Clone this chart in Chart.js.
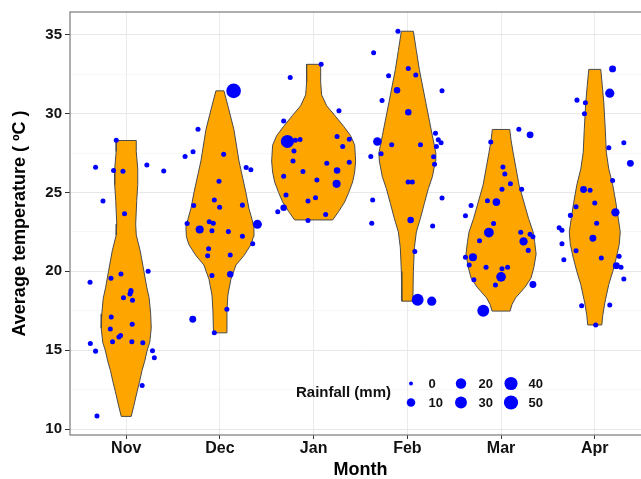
<!DOCTYPE html>
<html><head><meta charset="utf-8">
<script src="https://cdn.jsdelivr.net/npm/chart.js@4"></script>
<style>html,body{margin:0;padding:0;background:#fff;overflow:hidden}</style>
</head><body>
<canvas id="c" width="660" height="479" style="width:660px;height:479px;display:block"></canvas>
<script>
// ---------- data ----------
const months = ['Nov','Dec','Jan','Feb','Mar','Apr'];
const yTicks = [10,12.5,15,17.5,20,22.5,25,27.5,30,32.5,35];
const legendRain = [0,10,20,30,40,50];

// violin profiles: [temperature, half-width in category units]
const violinNov = [[28.3,.107],[27.6,.107],[26.5,.123],[25.5,.123],[24.5,.112],[23.0,.101],[22.3,.107],[21.3,.149],[20.0,.189],[19.0,.219],[18.3,.245],[17.3,.261],[16.4,.267],[15.5,.251],[15.0,.224],[14.3,.197],[13.7,.168],[13.0,.142],[12.4,.117],[11.4,.078],[10.8,.053]];
const violinDec = [[31.45,.043],[30.5,.085],[29.0,.149],[27.0,.203],[25.0,.277],[24.0,.309],[23.3,.342],[22.8,.363],[22.2,.358],[21.7,.331],[21.0,.256],[20.4,.171],[19.5,.117],[18.5,.085],[17.5,.075],[16.1,.069]];
const violinJan = [[33.13,.075],[32.0,.075],[31.2,.085],[30.5,.139],[29.9,.224],[29.2,.320],[28.6,.395],[28.0,.438],[27.0,.448],[26.3,.438],[25.67,.416],[25.0,.374],[24.4,.331],[23.8,.267],[23.26,.203]];
const violinFeb = [[35.23,.064],[34.0,.096],[32.8,.128],[30.7,.197],[28.6,.267],[27.5,.304],[27.0,.299],[26.0,.267],[25.25,.224],[24.3,.181],[23.36,.139],[22.5,.096],[21.5,.075],[20.0,.064],[18.11,.059]];
const violinMar = [[29.0,.093],[28.3,.107],[27.56,.128],[25.47,.192],[23.36,.293],[22.5,.342],[21.9,.358],[21.1,.374],[20.3,.352],[19.58,.320],[19.0,.256],[18.32,.155],[17.9,.117],[17.48,.096]];
const violinApr = [[32.81,.064],[31.8,.080],[30.72,.096],[29.0,.112],[27.56,.123],[26.5,.149],[25.47,.192],[24.4,.224],[23.36,.251],[22.5,.272],[21.7,.261],[20.84,.229],[20.0,.192],[19.16,.149],[18.0,.107],[17.2,.085],[16.6,.075]];

// observations: [jitter offset, temperature (°C), rainfall (mm)]
const pointsNov = [[-0.106,28.32,0.5],[-0.327,26.6,0.5],[-0.248,24.46,0.5],[-0.135,26.39,0.5],[-0.035,26.35,0.5],[-0.018,23.66,0.5],[0.22,26.75,0.5],[0.40,26.37,0.5],[-0.386,19.31,0.5],[-0.383,15.42,0.5],[-0.327,14.94,0.5],[-0.312,10.82,0.5],[-0.163,19.56,0.5],[-0.056,19.83,0.5],[-0.16,17.1,0.5],[-0.17,16.35,0.5],[-0.146,15.53,0.5],[-0.078,15.84,0.5],[-0.06,15.93,0.5],[-0.029,18.32,0.5],[0.04,18.57,0.5],[0.05,18.70,0.5],[0.05,18.79,0.5],[0.067,18.16,0.5],[0.064,16.64,0.5],[0.06,15.53,0.5],[0.177,15.47,0.5],[0.234,20.0,0.5],[0.28,14.96,0.5],[0.30,14.52,0.5],[0.17,12.76,0.5]];
const pointsDec = [[-0.372,27.29,0.5],[-0.287,27.59,0.5],[-0.234,29.01,0.5],[-0.28,24.18,0.5],[-0.06,24.52,0.5],[-0.35,23.03,0.5],[-0.216,22.65,8],[-0.114,23.14,0.5],[-0.071,23.05,0.5],[-0.085,22.57,0.5],[-0.01,25.72,0.5],[-0.003,24.06,0.5],[0.146,31.45,55],[0.04,27.42,0.5],[0.28,26.58,0.5],[0.33,26.45,0.5],[0.24,24.2,0.5],[0.09,22.52,0.5],[0.24,22.23,0.5],[0.40,22.98,12],[0.35,21.75,0.5],[-0.121,21.43,0.5],[-0.131,20.99,0.5],[0.11,21.03,0.5],[-0.085,19.73,0.5],[0.11,19.81,3],[0.074,17.59,0.5],[-0.06,16.1,0.5],[-0.29,16.96,4]];
const pointsJan = [[0.08,33.13,0.5],[-0.25,32.29,0.5],[0.27,30.19,0.5],[-0.32,29.54,0.5],[-0.28,28.24,40],[-0.195,28.32,0.5],[-0.145,28.37,0.5],[0.25,28.56,0.5],[0.38,28.38,0.5],[0.31,27.92,0.5],[-0.21,27.63,0.5],[-0.22,27.0,0.5],[0.14,26.85,0.5],[0.38,26.92,0.5],[-0.114,26.33,0.5],[0.25,26.39,3],[-0.32,26.03,0.5],[0.035,25.8,0.5],[0.245,25.55,8],[-0.295,24.84,0.5],[0.02,24.67,0.5],[-0.06,24.46,0.5],[-0.32,24.04,3],[-0.383,23.78,0.5],[0.128,23.61,0.5],[-0.06,23.22,0.5]];
const pointsFeb = [[-0.37,24.52,0.5],[-0.38,23.05,0.5],[-0.36,33.87,0.5],[-0.20,32.4,0.5],[-0.27,30.84,0.5],[-0.39,27.29,0.5],[-0.32,28.24,10],[-0.28,27.46,0.5],[0.01,32.86,0.5],[0.09,32.46,0.5],[0.37,31.45,0.5],[0.01,30.09,3],[0.30,28.76,0.5],[0.33,28.34,0.5],[0.36,28.15,0.5],[0.31,27.92,0.5],[0.14,28.03,0.5],[0.28,27.27,0.5],[0.29,26.79,0.5],[0.008,25.67,0.5],[0.053,25.67,0.5],[0.37,24.65,0.5],[0.27,22.88,0.5],[0.035,23.26,3],[-0.10,35.23,0.5],[-0.11,31.49,3],[-0.167,28.03,0.5],[0.08,21.26,0.5],[0.11,18.2,30],[0.26,18.11,13]];
const pointsMar = [[0.19,29.01,0.5],[0.31,28.66,4],[-0.11,28.2,0.5],[0.02,26.62,0.5],[0.04,26.18,0.5],[0.10,25.55,0.5],[0.01,25.21,0.5],[0.22,25.21,0.5],[-0.05,24.39,6],[-0.145,24.48,0.5],[-0.32,24.18,0.5],[-0.38,23.53,0.5],[-0.08,23.03,0.5],[-0.13,22.46,16],[0.21,22.48,0.5],[0.24,21.9,9],[0.31,22.35,0.5],[0.34,22.2,0.5],[-0.23,21.94,0.5],[-0.38,20.9,0.5],[-0.30,20.89,8],[-0.34,20.4,0.5],[-0.16,20.26,0.5],[0.01,20.17,0.5],[0.07,20.26,0.5],[0.0,19.65,16],[-0.29,19.46,0.5],[-0.06,19.14,0.5],[0.29,21.33,0.5],[0.34,19.17,4],[-0.19,17.5,30]];
const pointsApr = [[0.19,32.84,4],[0.16,31.3,13],[-0.19,30.86,0.5],[-0.10,30.7,0.5],[-0.11,30.0,0.5],[0.15,27.84,0.5],[0.31,28.15,0.5],[0.38,26.85,4],[0.19,25.76,0.5],[-0.12,25.19,4],[-0.05,25.15,0.5],[0.0,24.33,0.5],[0.22,23.74,9],[-0.20,24.1,0.5],[-0.26,23.55,0.5],[0.02,23.05,0.5],[-0.02,22.1,4],[-0.38,22.76,0.5],[-0.35,22.61,0.5],[-0.35,21.75,0.5],[-0.33,20.74,0.5],[-0.20,21.31,0.5],[0.07,20.84,0.5],[0.26,20.95,0.5],[0.23,20.36,4],[0.28,20.26,0.5],[0.31,19.52,0.5],[-0.14,17.82,0.5],[0.16,17.86,0.5],[0.01,16.6,0.5]];

const violins = [violinNov, violinDec, violinJan, violinFeb, violinMar, violinApr];
const pointSets = [pointsNov, pointsDec, pointsJan, pointsFeb, pointsMar, pointsApr];

// ---------- rendering ----------
const FONT = '"Liberation Sans", Arial, Helvetica, sans-serif';
const radiusFor = rain => 2 + 0.72 * Math.sqrt(rain);

const bubbleData = [];
pointSets.forEach((set, i) => set.forEach(([dx, t, rain]) => bubbleData.push({x: i + 1 + dx, y: t, r: radiusFor(rain)})));

const violinDatasets = violins.map((prof, i) => {
  const c = i + 1;
  const left = prof.map(([y, w]) => ({x: c - w, y}));
  const right = prof.slice().reverse().map(([y, w]) => ({x: c + w, y}));
  const pts = left.concat(right);
  pts.push(pts[0]);
  return {
    type: 'line', label: months[i], data: pts,
    borderColor: '#4a4a4a', borderWidth: 1, backgroundColor: '#FFA500',
    fill: 'shape', pointRadius: 0, pointHoverRadius: 0, tension: 0, order: 2
  };
});

const framePlugin = {
  id: 'frame',
  afterDatasetsDraw(chart) {
    const {ctx, chartArea: a} = chart;
    ctx.save();
    ctx.strokeStyle = '#7a7a7a';
    ctx.lineWidth = 1.2;
    ctx.strokeRect(a.left, a.top, a.right - a.left, a.bottom - a.top);
    ctx.restore();
  }
};

const sizeLegend = {
  id: 'sizeLegend',
  afterDraw(chart) {
    const ctx = chart.ctx;
    ctx.save();
    ctx.fillStyle = '#111';
    ctx.textBaseline = 'middle';
    ctx.textAlign = 'left';
    ctx.font = 'bold 15px ' + FONT;
    ctx.fillText('Rainfall (mm)', 296, 393);
    const colX = [411, 461, 511];
    const rowY = [383.5, 402.5];
    ctx.font = 'bold 13px ' + FONT;
    legendRain.forEach((v, k) => {
      const x = colX[Math.floor(k / 2)], y = rowY[k % 2];
      ctx.fillStyle = '#0000FF';
      ctx.beginPath();
      ctx.arc(x, y, radiusFor(v), 0, Math.PI * 2);
      ctx.fill();
      ctx.fillStyle = '#111';
      ctx.fillText(String(v), x + 17.5, y + 0.5);
    });
    ctx.restore();
  }
};

new Chart(document.getElementById('c'), {
  type: 'bubble',
  data: {
    datasets: [{
      label: 'Rainfall', data: bubbleData,
      backgroundColor: '#0000FF', borderWidth: 0, hoverRadius: 0, order: 0
    }].concat(violinDatasets)
  },
  options: {
    responsive: false,
    animation: false,
    devicePixelRatio: 1,
    layout: {padding: {left: 0, right: 9, top: 9, bottom: 0}},
    plugins: {legend: {display: false}, tooltip: {enabled: false}},
    events: [],
    scales: {
      x: {
        type: 'linear', min: 0.4, max: 6.6,
        afterBuildTicks: s => { s.ticks = months.map((m, i) => ({value: i + 1})); },
        afterFit: s => { s.height = 44; },
        ticks: {
          callback: v => months[Math.round(v) - 1] || '',
          font: {family: FONT, size: 16, weight: 'bold'}, color: '#111',
          padding: 0, maxRotation: 0, autoSkip: false
        },
        grid: {color: '#ebebeb', lineWidth: 1, tickColor: '#333', tickLength: 4},
        border: {display: false},
        title: {display: true, text: 'Month', color: '#000',
          font: {family: FONT, size: 18, weight: 'bold', lineHeight: 1}, padding: {top: 0, bottom: 0}}
      },
      y: {
        type: 'linear', min: 9.62, max: 36.45,
        afterBuildTicks: s => { s.ticks = yTicks.map(v => ({value: v})); },
        afterFit: s => { s.width = 70; },
        ticks: {
          callback: v => (v % 5 === 0 ? String(v) : ''),
          font: {family: FONT, size: 15, weight: 'bold'}, color: '#111', padding: 3
        },
        grid: {
          color: c => (c.tick && c.tick.value % 5 === 0 ? '#e8e8e8' : '#f3f3f3'),
          lineWidth: c => (c.tick && c.tick.value % 5 === 0 ? 1 : 0.7),
          tickColor: c => (c.tick && c.tick.value % 5 === 0 ? '#333' : 'rgba(0,0,0,0)'),
          tickLength: 5
        },
        border: {display: false},
        title: {display: true, text: 'Average temperature ( ºC )', color: '#000',
          font: {family: FONT, size: 18, weight: 'bold', lineHeight: 1}, padding: {top: 11, bottom: 0}}
      }
    }
  },
  plugins: [framePlugin, sizeLegend]
});
</script>
</body></html>
